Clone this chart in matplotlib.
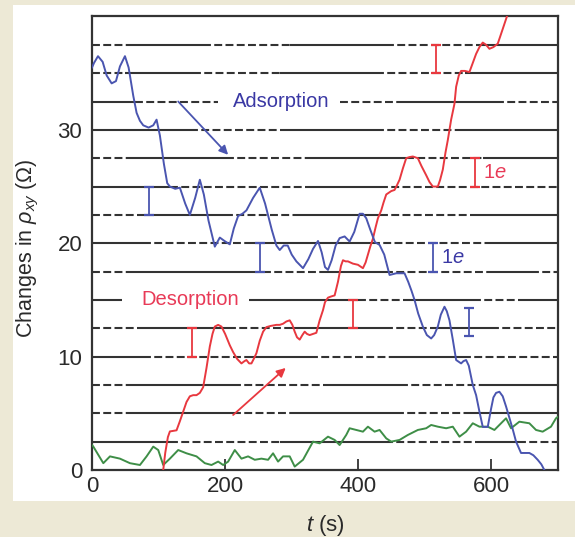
import matplotlib
matplotlib.use('Agg')
import matplotlib.pyplot as plt
from matplotlib.patches import Rectangle

plt.rcParams['font.family'] = ['Liberation Sans', 'DejaVu Sans']
plt.rcParams['mathtext.fontset'] = 'custom'
plt.rcParams['mathtext.rm'] = 'Liberation Sans'
plt.rcParams['mathtext.it'] = 'Liberation Sans:italic'

# ---------------- data ----------------
ads_t = [0, 3, 9, 16, 22, 29.5, 36, 42, 49.5, 55, 62, 67, 72, 77, 85, 92, 97, 102, 108, 113,
         117, 125, 132, 140, 147, 155, 162, 168, 175, 184.5, 192, 199, 207, 213, 219.5, 226,
         232, 242, 252, 260, 270, 277, 282, 288, 294, 300, 307, 317, 325, 332, 339.5, 345,
         350, 354.5, 360, 366, 372, 379.5, 387, 394, 402, 407, 412, 418, 425, 432, 439, 447,
         457, 463, 469.5, 475, 480, 484.5, 490, 497, 503, 509.5, 514, 519.5, 524, 529.5, 533,
         537, 542, 547, 554.5, 558, 562, 566, 572, 577, 582, 587, 594.5, 599.5, 603, 607, 612,
         617, 622, 627, 632, 637, 644.5, 650, 657, 663, 669.5, 675, 679.5]
ads_r = [35.5, 35.9, 36.5, 36.0, 34.8, 34.1, 34.3, 35.6, 36.5, 35.5, 33.0, 31.5, 30.8, 30.4, 30.2,
         30.4, 30.9, 29.5, 27.0, 25.3, 25.0, 24.8, 24.9, 23.5, 22.5, 24.0, 25.6, 24.3, 22.0, 19.7,
         20.5, 20.2, 19.9, 21.3, 22.4, 22.6, 22.9, 24.0, 24.9, 23.5, 21.2, 19.8, 19.4, 19.8, 19.8,
         19.0, 18.4, 17.8, 18.6, 19.5, 20.2, 19.2, 17.9, 17.65, 18.5, 19.8, 20.45, 20.6, 20.15,
         21.0, 22.6, 22.6, 22.2, 21.2, 20.1, 19.85, 19.0, 17.2, 17.35, 17.35, 17.35, 16.6, 15.8,
         15.0, 13.8, 12.65, 11.9, 11.6, 11.9, 12.65, 13.7, 14.4, 14.0, 13.2, 11.5, 9.7, 9.4, 9.6,
         9.7, 9.2, 7.5, 6.6, 5.15, 3.8, 3.8, 5.4, 6.4, 6.8, 6.9, 6.5, 5.6, 4.6, 3.6, 2.5, 1.5,
         1.5, 1.5, 1.3, 0.9, 0.5, 0.0]

des_t = [107, 110, 114, 117, 122, 127, 132, 137, 142, 147, 152, 157, 162, 167, 172, 177, 181,
         184.5, 189.5, 194.5, 200, 207, 212, 218, 224.5, 229, 232, 236, 239.5, 243, 247, 252,
         257, 262, 268, 277, 282, 287, 292, 297, 301, 304.5, 308, 312, 316, 319.5, 323, 327,
         332, 337, 342, 347, 350, 354.5, 359, 364.5, 369.5, 374, 377, 381, 384.5, 392, 399.5,
         407, 411, 414.5, 418, 422, 426, 429.5, 434.5, 438, 442, 449.5, 454.5, 458, 462, 467,
         472, 477, 482, 489.5, 495, 502, 507, 512, 516, 519.5, 523, 527, 531, 534.5, 539.5,
         544.5, 547, 551, 554.5, 560, 567, 572, 577, 582, 587, 592, 597, 603, 609.5, 613, 617,
         621, 625]
des_r = [0.0, 1.5, 2.9, 3.4, 3.45, 3.5, 4.3, 5.15, 6.0, 6.5, 6.6, 6.6, 6.8, 7.3, 9.0, 10.9, 12.0,
         12.65, 12.8, 12.65, 12.0, 11.0, 10.4, 9.8, 9.4, 9.6, 9.7, 9.4, 9.4, 9.8, 10.3, 11.4,
         12.2, 12.6, 12.7, 12.8, 12.8, 12.9, 13.1, 13.2, 12.8, 12.2, 11.7, 11.5, 11.9, 12.2, 12.0,
         11.9, 12.0, 12.1, 13.2, 14.1, 14.8, 15.2, 15.3, 15.4, 16.6, 18.0, 18.5, 18.4, 18.4, 18.2,
         18.1, 17.8, 18.3, 19.0, 19.7, 20.4, 21.4, 22.2, 22.9, 23.6, 24.3, 24.6, 24.7, 25.1, 25.6,
         26.6, 27.5, 27.6, 27.65, 27.5, 26.8, 26.0, 25.4, 25.0, 25.0, 25.0, 25.6, 26.5, 28.0,
         29.1, 30.9, 32.3, 33.8, 34.8, 35.2, 35.2, 35.1, 35.9, 36.7, 37.3, 37.7, 37.5, 37.15,
         37.3, 37.6, 38.2, 38.9, 39.6, 40.3]

base_t = [0, 2, 9.5, 17, 27, 42, 57, 72, 82, 92, 99.5, 107, 117, 129.5, 142, 157, 169.5, 179.5,
          189.5, 197, 204.5, 214.5, 224.5, 234.5, 244.5, 254.5, 264.5, 272, 279.5, 287, 297,
          304.5, 317, 332, 342, 354.5, 364.5, 372, 382, 387, 397, 407, 414.5, 424.5, 432, 442,
          449.5, 462, 474.5, 489.5, 502, 509.5, 519.5, 532, 542, 552, 562, 572, 582, 594.5,
          604.5, 614.5, 622, 629.5, 642, 657, 667, 677, 689.5, 697, 700]
base_r = [2.2, 2.06, 1.33, 0.6, 1.2, 1.0, 0.6, 0.44, 1.2, 2.06, 1.76, 0.44, 1.0, 1.76, 1.47, 1.2,
          0.6, 0.44, 0.74, 0.44, 0.74, 1.76, 1.0, 1.2, 0.9, 1.0, 0.9, 1.47, 0.74, 1.2, 1.2, 0.3,
          0.9, 2.5, 2.35, 2.94, 2.65, 2.2, 3.1, 3.68, 3.53, 3.38, 3.82, 3.38, 3.53, 2.79, 2.5,
          2.65, 3.09, 3.53, 3.68, 3.97, 3.82, 3.68, 3.82, 2.94, 3.38, 4.12, 3.82, 3.82, 3.53,
          4.12, 4.56, 3.68, 4.26, 4.12, 3.53, 3.38, 3.82, 4.56, 4.7]

quantum_levels = [2.5, 5, 7.5, 10, 12.5, 15, 17.5, 20, 22.5, 25, 27.5, 30, 32.5, 35, 37.5]

ads_bar_t = [85, 252, 512, 567]
ads_bar_lo = [22.5, 17.5, 17.5, 11.8]
ads_bar_hi = [25.0, 20.0, 20.0, 14.3]
des_bar_t = [150, 392, 517, 575]
des_bar_lo = [10.0, 12.5, 35.0, 25.0]
des_bar_hi = [12.5, 15.0, 37.5, 27.5]

x_ticks = [0, 200, 400, 600]
y_ticks = [0, 10, 20, 30]
x_label = '$t$ (s)'
y_label = r'Changes in $\rho_{xy}$ ($\Omega$)'

# ---------------- styling of the level lines (solid / dashed segments) ----------------
line_patterns = {
    37.5: [(0, 52, 'd'), (52, 167, 's'), (167, 297, 'd'), (297, 442, 's'), (442, 587, 'd'), (587, 700, 's')],
    35.0: [(0, 50, 'd'), (50, 152, 's'), (152, 282, 'd'), (282, 427, 's'), (427, 560, 'd'), (560, 700, 's')],
    32.5: [(0, 65, 's'), (65, 190, 'd'), (372, 462, 'd'), (462, 607, 's'), (607, 700, 'd')],
    30.0: [(0, 147, 's'), (147, 282, 'd'), (282, 427, 's'), (427, 552, 'd'), (552, 700, 's')],
    27.5: [(0, 57, 'd'), (57, 202, 's'), (202, 327, 'd'), (327, 472, 's'), (472, 587, 'd'), (587, 700, 's')],
    25.0: [(0, 117, 's'), (117, 327, 'd'), (327, 432, 's'), (432, 700, 'd')],
    22.5: [(0, 77, 'd'), (77, 200, 's'), (200, 302, 'd'), (302, 432, 's'), (432, 572, 'd'), (572, 700, 's')],
    20.0: [(0, 77, 's'), (77, 232, 'd'), (232, 420, 's'), (420, 600, 'd'), (600, 700, 's')],
    17.5: [(0, 57, 'd'), (57, 257, 's'), (257, 347, 'd'), (347, 440, 's'), (440, 600, 'd'), (600, 660, 's'), (660, 700, 'd')],
    15.0: [(0, 45, 's'), (236, 400, 's'), (400, 470, 'd'), (470, 572, 's'), (572, 640, 'd'), (640, 700, 's')],
    12.5: [(0, 77, 'd'), (77, 205, 's'), (205, 300, 'd'), (300, 440, 's'), (440, 520, 'd'), (520, 600, 's'), (600, 700, 'd')],
    10.0: [(0, 77, 's'), (77, 232, 'd'), (232, 327, 's'), (327, 447, 'd'), (447, 557, 's'), (557, 700, 'd')],
    7.5: [(0, 57, 'd'), (57, 212, 's'), (212, 347, 'd'), (347, 462, 's'), (462, 587, 'd'), (587, 700, 's')],
    5.0: [(0, 57, 'd'), (57, 212, 's'), (212, 297, 'd'), (297, 457, 's'), (457, 560, 'd'), (560, 700, 's')],
    2.5: [(0, 117, 's'), (117, 282, 'd'), (282, 440, 's'), (440, 580, 'd'), (580, 640, 's'), (640, 700, 'd')],
}

BEIGE = '#ede9d6'
LINE = '#333333'
BLUE = '#4a55b0'
BLUE_TXT = '#3a38a4'
RED = '#e8383f'
RED_TXT = '#e83a57'
GREEN = '#3e8e47'
TXT = '#2a2a2a'

fig = plt.figure(figsize=(5.75, 5.37), dpi=100, facecolor=BEIGE)
fig.patches.append(Rectangle((13 / 575, 36 / 537), 1 - 13 / 575, 496 / 537,
                             transform=fig.transFigure, facecolor='white',
                             edgecolor='none', zorder=-10))
ax = fig.add_axes([0.16, 0.1248, 0.8104, 0.8445])
ax.set_zorder(5)
ax.set_facecolor('white')
ax.set_xlim(0, 700)
ax.set_ylim(0, 40)

for lvl in quantum_levels:
    for x0, x1, st in line_patterns[lvl]:
        if st == 's':
            ax.plot([x0, x1], [lvl, lvl], color=LINE, lw=1.5, solid_capstyle='butt', zorder=1)
        else:
            ax.plot([x0, x1], [lvl, lvl], color=LINE, lw=1.5, dashes=(3.8, 1.6),
                    dash_capstyle='butt', zorder=1)

ax.plot(base_t, base_r, color=GREEN, lw=1.4, zorder=3, solid_joinstyle='round')
ax.plot(des_t, des_r, color=RED, lw=1.4, zorder=3, solid_joinstyle='round')
ax.plot(ads_t, ads_r, color=BLUE, lw=1.4, zorder=4, solid_joinstyle='round')

for t, lo, hi in zip(ads_bar_t, ads_bar_lo, ads_bar_hi):
    ax.errorbar([t], [(lo + hi) / 2], yerr=[(hi - lo) / 2], fmt='none', ecolor=BLUE,
                elinewidth=1.3, capsize=3.5, capthick=1.6, zorder=5)
for t, lo, hi in zip(des_bar_t, des_bar_lo, des_bar_hi):
    ax.errorbar([t], [(lo + hi) / 2], yerr=[(hi - lo) / 2], fmt='none', ecolor=RED,
                elinewidth=1.3, capsize=3.5, capthick=1.6, zorder=5)

ax.text(284, 32.5, 'Adsorption', color=BLUE_TXT, fontsize=14.5, ha='center', va='center', zorder=6)
ax.text(148, 15.0, 'Desorption', color=RED_TXT, fontsize=14.5, ha='center', va='center', zorder=6)
ax.text(525, 18.75, '1$e$', color=BLUE_TXT, fontsize=14.5, ha='left', va='center', zorder=6)
ax.text(588, 26.25, '1$e$', color=RED_TXT, fontsize=14.5, ha='left', va='center', zorder=6)

ax.annotate('', xy=(204.5, 27.8), xytext=(129.5, 32.5),
            arrowprops=dict(arrowstyle='-|>', color=BLUE, lw=1.3, mutation_scale=13,
                            shrinkA=0, shrinkB=0), zorder=5)
ax.annotate('', xy=(291, 9.0), xytext=(212, 4.85),
            arrowprops=dict(arrowstyle='-|>', color=RED, lw=1.3, mutation_scale=13,
                            shrinkA=0, shrinkB=0), zorder=5)

ax.set_xticks(x_ticks)
ax.set_yticks(y_ticks)
ax.tick_params(axis='x', direction='in', length=8, width=1.3, color=LINE,
               labelsize=16, labelcolor=TXT, pad=4)
ax.tick_params(axis='y', direction='in', length=0, labelsize=16, labelcolor=TXT, pad=7)
for sp in ax.spines.values():
    sp.set_color(LINE)
    sp.set_linewidth(1.6)

fig.text(28 / 575, 1 - 248 / 537, y_label, rotation=90, ha='center', va='center',
         fontsize=15.5, color=TXT)
fig.text(325 / 575, 1 - 525 / 537, x_label, ha='center', va='center',
         fontsize=16, color=TXT)

fig.savefig('out.png', dpi=100, facecolor=BEIGE)
